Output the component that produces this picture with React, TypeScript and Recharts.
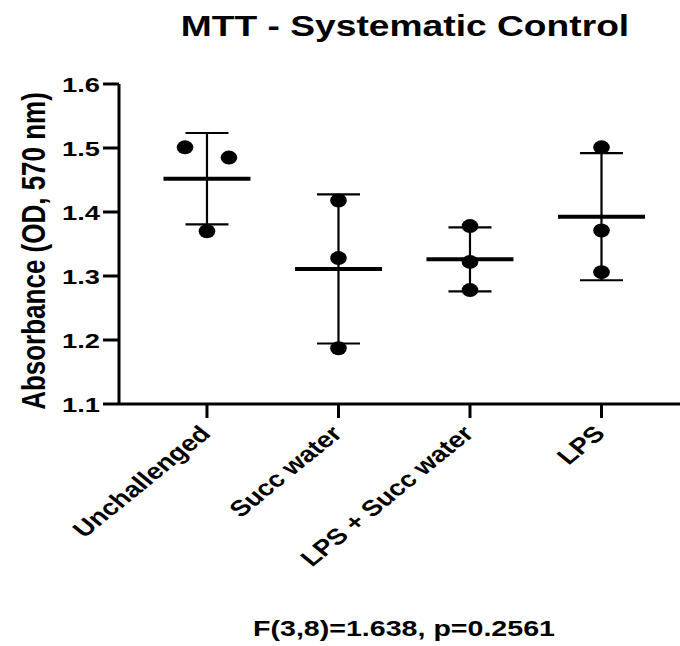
import React from 'react';
import { ScatterChart, Scatter, XAxis, YAxis, ErrorBar } from 'recharts';

// Groups and replicate readings (absorbance, OD 570 nm)
const groups = ['Unchallenged', 'Succ water', 'LPS + Succ water', 'LPS'];
const unchallenged = [1.501, 1.485, 1.370];
const succWater = [1.418, 1.328, 1.187];
const lpsSuccWater = [1.378, 1.322, 1.278];
const lps = [1.501, 1.371, 1.306];
// horizontal spread of overlapping points, in group units
const spreadUnchallenged = [-0.167, 0.167, 0];
const spreadOthers = [0, 0, 0];
const yTicks = [1.1, 1.2, 1.3, 1.4, 1.5, 1.6];

const W = 680;
const H = 646;
const FONT = '"Liberation Sans", Arial, Helvetica, sans-serif';
const SX = 1.3; // horizontal text stretch
const SX_TICK = 1.23;

const replicates = [unchallenged, succWater, lpsSuccWater, lps];
const spreads = [spreadUnchallenged, spreadOthers, spreadOthers, spreadOthers];

const points = replicates.flatMap((vals, gi) =>
  vals.map((v, i) => ({ x: gi + spreads[gi][i], y: v }))
);

const mean = (a: number[]) => a.reduce((s, v) => s + v, 0) / a.length;
const sd = (a: number[]) => {
  const m = mean(a);
  return Math.sqrt(a.reduce((s, v) => s + (v - m) * (v - m), 0) / (a.length - 1));
};

const summary = replicates.map((vals, gi) => ({ x: gi, y: mean(vals), err: sd(vals) }));

const Dot = (props: any) => {
  const { cx, cy } = props;
  if (cx == null || cy == null) return null;
  return <ellipse cx={cx} cy={cy} rx={8.3} ry={7} fill="#000" />;
};

const MeanLine = (props: any) => {
  const { cx, cy } = props;
  if (cx == null || cy == null) return null;
  return <line x1={cx - 43.5} x2={cx + 43.5} y1={cy} y2={cy} stroke="#000" strokeWidth={4} />;
};

const YTick = (props: any) => {
  const { x, y, payload } = props;
  return (
    <text
      transform={`translate(${x},${y}) scale(${SX},1)`}
      textAnchor="end"
      dy="0.36em"
      fontFamily={FONT}
      fontWeight="bold"
      fontSize={21}
      fill="#000"
    >
      {Number(payload.value).toFixed(1)}
    </text>
  );
};

const XTick = (props: any) => {
  const { x, y, payload } = props;
  const label = groups[Math.round(payload.value)];
  return (
    <text
      transform={`translate(${x + 5},${y + 15}) scale(${SX_TICK},1) rotate(-45)`}
      textAnchor="end"
      fontFamily={FONT}
      fontWeight="bold"
      fontSize={22.4}
      fill="#000"
    >
      {label}
    </text>
  );
};

export default function App() {
  return (
    <div style={{ position: 'absolute', left: 0, top: 0, width: W, height: H, background: '#fff' }}>
      <ScatterChart width={W} height={H} margin={{ top: 84, right: 0, bottom: 0, left: 0 }}>
        <XAxis
          type="number"
          dataKey="x"
          domain={[-0.669, 3.597]}
          ticks={[0, 1, 2, 3]}
          allowDataOverflow
          height={242}
          axisLine={{ stroke: '#000', strokeWidth: 3 }}
          tickLine={{ stroke: '#000', strokeWidth: 3 }}
          tickSize={14}
          tick={<XTick />}
          interval={0}
        />
        <YAxis
          type="number"
          dataKey="y"
          domain={[1.1, 1.6]}
          ticks={yTicks}
          allowDataOverflow
          width={119}
          axisLine={{ stroke: '#000', strokeWidth: 3 }}
          tickLine={{ stroke: '#000', strokeWidth: 3 }}
          tickSize={16}
          tickMargin={3}
          tick={<YTick />}
          interval={0}
        />
        <Scatter data={summary} shape={<MeanLine />} isAnimationActive={false}>
          <ErrorBar dataKey="err" direction="y" width={21.5} stroke="#000" strokeWidth={2.2} isAnimationActive={false} />
        </Scatter>
        <Scatter data={points} shape={<Dot />} isAnimationActive={false} />
      </ScatterChart>
      <svg width={W} height={H} style={{ position: 'absolute', left: 0, top: 0, pointerEvents: 'none' }}>
        <text
          transform={`translate(405,36) scale(1.24,1)`}
          textAnchor="middle"
          fontFamily={FONT}
          fontWeight="bold"
          fontSize={30}
          fill="#000"
        >
          MTT - Systematic Control
        </text>
        <text
          transform={`translate(45,251) scale(${SX},1) rotate(-90)`}
          textAnchor="middle"
          fontFamily={FONT}
          fontWeight="bold"
          fontSize={26}
          fill="#000"
        >
          Absorbance (OD, 570 nm)
        </text>
        <text
          transform={`translate(404,636) scale(${SX},1)`}
          textAnchor="middle"
          fontFamily={FONT}
          fontWeight="bold"
          fontSize={22}
          fill="#000"
        >
          F(3,8)=1.638, p=0.2561
        </text>
      </svg>
    </div>
  );
}
